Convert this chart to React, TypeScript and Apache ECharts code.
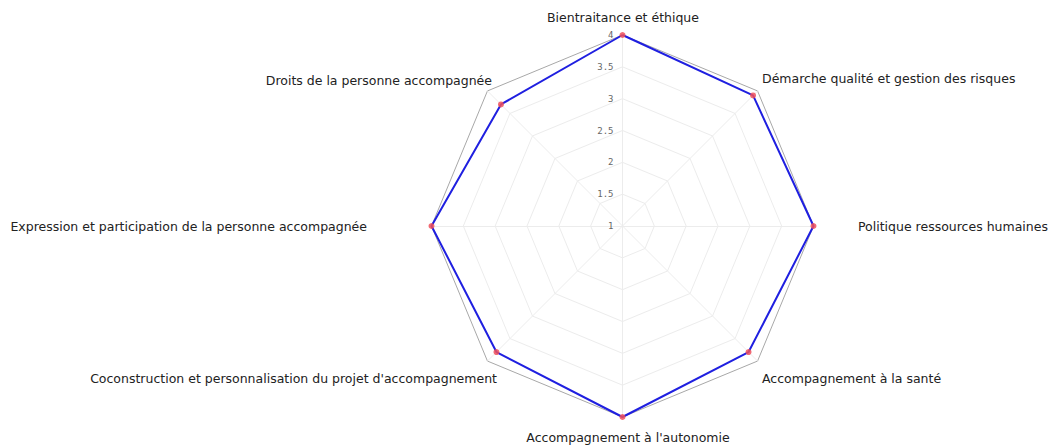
import React, { useEffect, useRef } from "react";
import * as echarts from "echarts";

// Indicators in ECharts order (counter-clockwise from the top)
const indicatorNames = [
  "Bientraitance et éthique",
  "Droits de la personne accompagnée",
  "Expression et participation de la personne accompagnée",
  "Coconstruction et personnalisation du projet d'accompagnement",
  "Accompagnement à l'autonomie",
  "Accompagnement à la santé",
  "Politique ressources humaines",
  "Démarche qualité et gestion des risques",
];
const scores = [4, 3.7, 4, 3.8, 4, 3.8, 4, 3.9];
const scaleMin = 1;
const scaleMax = 4;
const tickStep = 0.5;

// label anchor layout (pixels), one per indicator
const labelLayout = [
  { x: 623, y: 17, align: "center" },
  { x: 492, y: 80, align: "right" },
  { x: 367, y: 226, align: "right" },
  { x: 497, y: 378, align: "right" },
  { x: 628, y: 437, align: "center" },
  { x: 762, y: 378, align: "left" },
  { x: 858, y: 226, align: "left" },
  { x: 762, y: 78, align: "left" },
];

const CX = 622.5;
const CY = 226;
const R = 191;

export default function App() {
  const ref = useRef<HTMLDivElement>(null);

  useEffect(() => {
    if (!ref.current) return;
    const chart = echarts.init(ref.current, null, { renderer: "svg" });
    const levels = Math.round((scaleMax - scaleMin) / tickStep);
    const splitColors: string[] = [];
    for (let i = 0; i <= levels; i++) splitColors.push(i === levels ? "#a8a8a8" : "#ececec");

    chart.setOption({
      animation: false,
      backgroundColor: "#ffffff",
      radar: {
        center: [CX, CY],
        radius: R,
        startAngle: 90,
        shape: "polygon",
        splitNumber: levels,
        indicator: indicatorNames.map((name) => ({ name, min: scaleMin, max: scaleMax })),
        axisName: { show: false },
        axisLine: { lineStyle: { color: "#ececec", width: 1 } },
        splitLine: { lineStyle: { color: splitColors, width: 1 } },
        splitArea: { show: false },
        axisTick: { show: false },
        axisLabel: { show: false },
      },
      polar: { center: [CX, CY], radius: R },
      angleAxis: {
        type: "value",
        startAngle: 90,
        min: 0,
        max: 360,
        show: false,
      },
      radiusAxis: {
        type: "value",
        min: scaleMin,
        max: scaleMax,
        interval: tickStep,
        axisLine: { show: false },
        axisTick: { show: false },
        splitLine: { show: false },
        axisLabel: {
          show: true,
          color: "#666",
          fontSize: 9,
          fontFamily: "DejaVu Sans Mono",
          margin: 9,
          formatter: (v: number) => String(v),
        },
      },
      series: [
        {
          type: "radar",
          symbol: "circle",
          symbolSize: 6,
          itemStyle: { color: "rgba(240,80,90,0.85)" },
          lineStyle: { color: "#1f1fe0", width: 2 },
          data: [{ value: scores, name: "Score" }],
          z: 3,
        },
      ],
      graphic: indicatorNames.map((name, i) => ({
        type: "text",
        x: labelLayout[i].x,
        y: labelLayout[i].y,
        style: {
          text: name,
          fill: "#222",
          fontSize: 12.5,
          fontFamily: "DejaVu Sans",
          align: labelLayout[i].align,
          verticalAlign: "middle",
        },
      })),
    });
    return () => chart.dispose();
  }, []);

  return (
    <div
      ref={ref}
      style={{ position: "absolute", left: 0, top: 0, width: 1053, height: 448 }}
    />
  );
}
